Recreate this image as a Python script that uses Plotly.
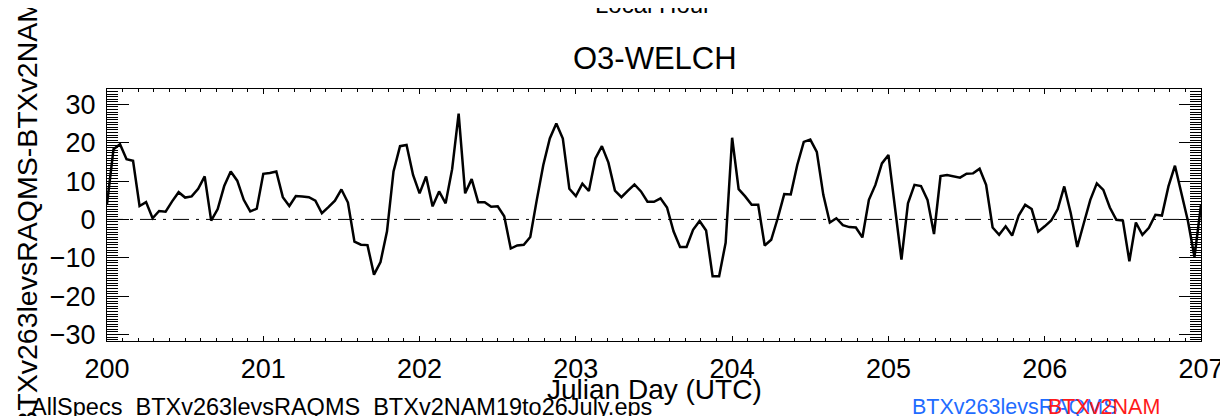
import plotly.graph_objects as go

# ---- data (hourly, Julian day 200.0 .. 207.0) ----
start_day = 200.0
hours_per_day = 24
diff_values = [
    4.0, 18.3, 19.6, 15.7, 15.3, 3.5, 4.5, 0.3, 2.2, 2.0, 4.7, 7.1, 5.7, 6.0, 8.0, 11.2,
    -0.3, 2.7, 8.7, 12.5, 10.1, 5.1, 2.1, 2.8,
    11.9, 12.1, 12.5, 5.8, 3.5, 6.1, 6.0, 5.8, 4.9, 1.6, 3.2, 4.9, 7.8, 4.4, -5.8, -6.6,
    -6.7, -14.4, -11.1, -3.1, 12.5, 19.1, 19.4, 11.6,
    6.8, 11.2, 3.4, 7.3, 4.2, 13.1, 27.6, 6.8, 10.5, 4.5, 4.5, 3.3, 3.4, 0.8, -7.6, -6.8,
    -6.6, -4.6, 5.1, 14.2, 21.1, 25.0, 21.1, 8.0,
    6.1, 9.3, 7.4, 15.9, 19.1, 14.8, 7.5, 5.8, 7.5, 9.1, 7.3, 4.6, 4.6, 5.5, 3.1, -3.1,
    -7.2, -7.2, -2.7, -0.4, -2.9, -14.8, -14.8, -6.1,
    21.3, 7.9, 6.0, 3.8, 3.8, -6.8, -5.3, 0.3, 6.6, 6.5, 14.2, 20.2, 20.8, 17.6, 6.4, -0.8,
    0.3, -1.5, -2.0, -2.1, -4.7, 5.1, 9.0, 14.6,
    16.8, 3.0, -10.5, 4.2, 9.0, 8.7, 5.1, -3.8, 11.3, 11.6, 11.2, 10.9, 11.9, 12.0, 13.2, 9.0,
    -2.1, -4.0, -1.8, -4.2, 1.0, 3.8, 2.7, -3.2,
    -1.8, -0.3, 2.7, 8.6, 1.6, -7.2, -1.0, 5.1, 9.4, 7.7, 3.1, -0.1, -0.3, -10.9, -0.8, -4.0,
    -2.2, 1.2, 1.0, 8.6, 14.0, 6.8, -0.5, -9.8,
    3.8,
]
julian_days = [start_day + i / hours_per_day for i in range(len(diff_values))]

x_ticks = [200, 201, 202, 203, 204, 205, 206, 207]
y_ticks = [-30, -20, -10, 0, 10, 20, 30]
zero_x = [200, 207]
zero_y = [0, 0]

title_text = "O3-WELCH"
top_axis_text = "Local Hour"
x_title = "Julian Day (UTC)"
y_title = "BTXv263levsRAQMS-BTXv2NAM"
file_text = "AllSpecs_BTXv263levsRAQMS_BTXv2NAM19to26July.eps"
legend_blue = "BTXv263levsRAQMS"
legend_red = "BTXv2NAM"

# ---- layout geometry (pixels) ----
W, H = 1228, 416
L, T, PW, PH = 99, 81, 1104, 252
R = W - L - PW
B = H - T - PH

FONT = "Liberation Sans, Arial, sans-serif"


def px(xp):
    return (xp - L) / PW


def py(yp):
    return (T + PH - yp) / PH


fig = go.Figure()
fig.add_trace(go.Scatter(
    x=zero_x, y=zero_y, mode="lines",
    line=dict(color="black", width=1, dash="16px,7px,3px,7px"),
    hoverinfo="skip", showlegend=False,
))
fig.add_trace(go.Scatter(
    x=julian_days, y=diff_values, mode="lines",
    line=dict(color="black", width=2.5),
    showlegend=False,
))

axis_common = dict(
    showline=True, linecolor="black", linewidth=1, mirror="allticks",
    ticks="inside", tickcolor="black", showgrid=False, zeroline=False,
    tickfont=dict(family=FONT, size=27, color="black"),
    ticklabeloverflow="allow",
)

fig.update_xaxes(
    range=[200, 207], tickvals=x_ticks, ticklen=5, tickwidth=1,
    minor=dict(dtick=0.1, ticklen=3, ticks="inside", tickcolor="black", showgrid=False),
    ticklabelstandoff=4,
    **axis_common,
)
fig.update_yaxes(
    range=[-31.7, 34.0], tickvals=y_ticks, ticklen=22, tickwidth=1,
    minor=dict(dtick=10 / 15, ticklen=11, ticks="inside", tickcolor="black", showgrid=False),
    ticklabelstandoff=5,
    **axis_common,
)

annotations = [
    dict(text=title_text, x=px(652), y=py(51), font=dict(family=FONT, size=31, color="black")),
    dict(text=top_axis_text, x=px(650), y=py(-4), font=dict(family=FONT, size=24, color="black")),
    dict(text=x_title, x=px(652), y=py(381), font=dict(family=FONT, size=28, color="black")),
    dict(text=y_title, x=px(18), y=py(206), textangle=-90, font=dict(family=FONT, size=28.5, color="black")),
    dict(text=file_text, x=px(20), y=py(399), xanchor="left", font=dict(family=FONT, size=23.5, color="black")),
    dict(text=legend_blue, x=px(909), y=py(399), xanchor="left", font=dict(family=FONT, size=21.5, color="#1f6cff")),
    dict(text=legend_red, x=px(1047), y=py(399), xanchor="left", font=dict(family=FONT, size=21.5, color="#ff1a1a")),
]
for a in annotations:
    a.setdefault("xanchor", "center")
    a.update(xref="paper", yref="paper", yanchor="middle", showarrow=False)

fig.update_layout(
    width=W, height=H,
    margin=dict(l=L, r=R, t=T, b=B, pad=0),
    paper_bgcolor="white", plot_bgcolor="white",
    annotations=annotations,
    font=dict(family=FONT, color="black"),
)

fig.write_html("out.html")
